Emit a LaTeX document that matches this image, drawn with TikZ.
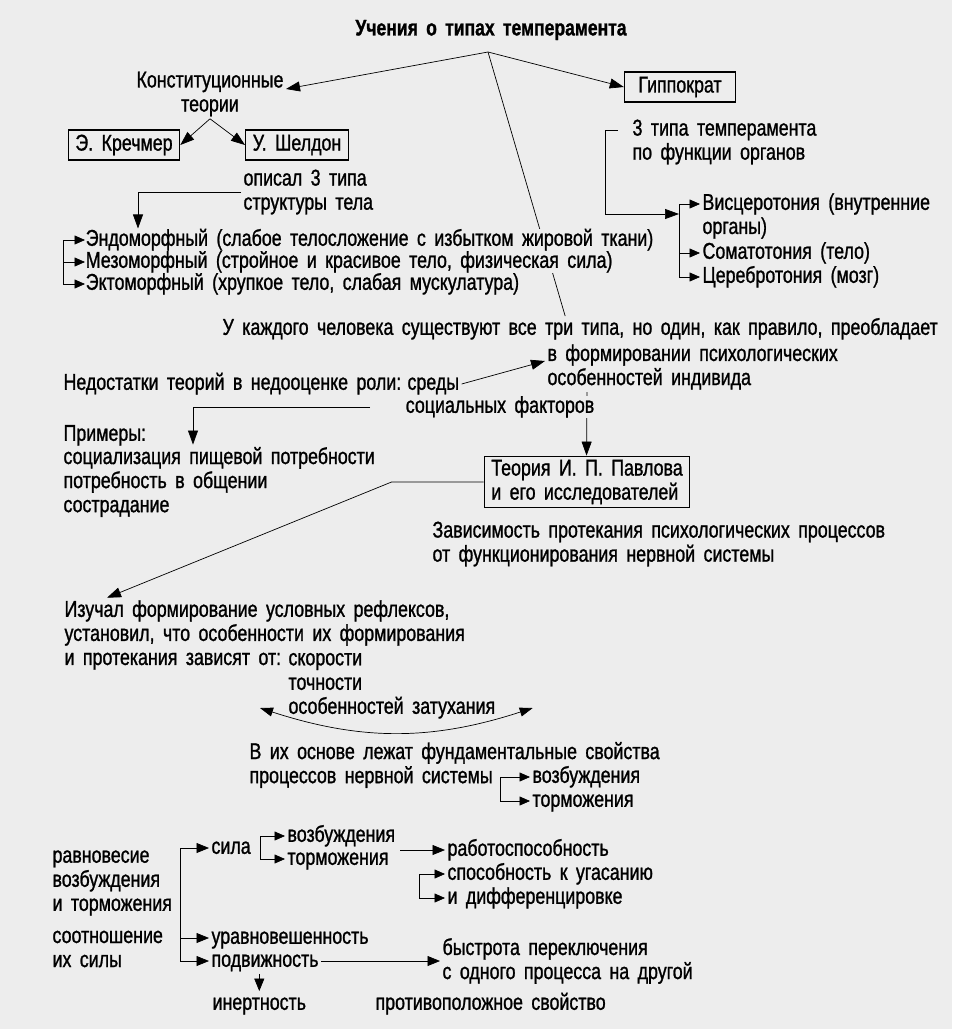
\documentclass[tikz,border=0pt]{standalone}
\usepackage{fontspec}
\setmainfont{Liberation Sans}[FakeStretch=0.78,WordSpace=1.7,FakeBold=1.1]
\usetikzlibrary{arrows.meta,backgrounds}
\definecolor{paper}{gray}{0.93}

\tikzset{
  txt/.style={inner sep=1pt,anchor=west,align=left},
  one/.style={txt,text height=9.2pt,text depth=2.6pt},
  cover/.style={one,fill=paper,inner sep=0pt,text height=9.4pt,text depth=2.8pt},
  box/.style={draw,line width=0.8pt,inner xsep=4pt,inner ysep=2pt,minimum height=0.6cm,fill=paper},
  arr/.style={-{Triangle[length=0.28cm,width=0.2cm]}},
  marr/.style={-{Triangle[length=0.25cm,width=0.2cm]}},
  sarr/.style={-{Triangle[length=0.21cm,width=0.18cm]}},
  darr/.style={{Triangle[length=0.26cm,width=0.18cm]}-{Triangle[length=0.26cm,width=0.18cm]}},
}

\begin{document}
\begin{tikzpicture}[line width=0.9pt,font=\fontsize{13}{13.7}\selectfont]
  \useasboundingbox (0,0) rectangle (19.04,-20.58);

  \node[font=\fontsize{12.8}{13}\selectfont\bfseries,inner sep=1pt] (title) at (9.82,-0.60) {Учения о типах темперамента};
  \coordinate (apex) at (9.76,-1.04);

  \node[align=center,inner sep=1pt] (konst) at (4.20,-1.88) {Конституционные\\теории};
  \node[box] (kretch) at (2.48,-2.90) {Э. Кречмер};
  \node[box] (sheld) at (5.94,-2.90) {У. Шелдон};
  \node[box,minimum width=2.22cm] (hippo) at (13.60,-1.74) {Гиппократ};
  \node[txt] (tipy) at (12.60,-2.84) {3 типа темперамента\\по функции органов};
  \node[txt] (opis) at (4.82,-3.84) {описал 3 типа\\структуры тела};

  \node[txt] (visc) at (14.00,-4.32) {Висцеротония (внутренние\\органы)};
  \node[one] (soma) at (14.00,-5.06) {Соматотония (тело)};
  \node[one] (cereb) at (14.00,-5.54) {Церебротония (мозг)};

  \node[cover] (ecto) at (1.70,-5.68) {Эктоморфный (хрупкое тело, слабая мускулатура)};
  \node[cover] (meso) at (1.70,-5.24) {Мезоморфный (стройное и красивое тело, физическая сила)};
  \node[cover] (endo) at (1.70,-4.80) {Эндоморфный (слабое телосложение с избытком жировой ткани)};

  \node[one] (ukazh) at (4.40,-6.58) {У каждого человека существуют все три типа, но один, как правило, преобладает};
  \node[txt] (form) at (10.90,-7.34) {в формировании психологических\\особенностей индивида};
  \node[one] (nedost) at (1.22,-7.68) {Недостатки теорий в недооценке роли:};
  \node[one] (sredy) at (8.10,-7.68) {среды};
  \node[cover] (socf) at (8.10,-8.14) {социальных факторов};
  \node[one] (prim) at (1.22,-8.70) {Примеры:};
  \node[txt] (exl) at (1.22,-9.64) {социализация пищевой потребности\\потребность в общении\\сострадание};

  \node[box,align=left,minimum width=3.8cm] (pavl) at (11.74,-9.64) {Теория И. П. Павлова\\и его исследователей};
  \node[txt] (zavis) at (8.60,-10.88) {Зависимость протекания психологических процессов\\от функционирования нервной системы};

  \node[txt] (izuch) at (1.24,-12.70) {Изучал формирование условных рефлексов,\\установил, что особенности их формирования\\и протекания зависят от:};
  \node[one] (skor) at (5.72,-13.19) {скорости};
  \node[one] (toch) at (5.72,-13.68) {точности};
  \node[one] (zatuh) at (5.72,-14.16) {особенностей затухания};

  \node[txt] (osnov) at (4.94,-15.30) {В их основе лежат фундаментальные свойства\\процессов нервной системы};
  \node[one] (vozbA) at (10.60,-15.54) {возбуждения};
  \node[one] (tormA) at (10.60,-16.02) {торможения};

  \node[one] (sila) at (4.18,-16.96) {сила};
  \node[one] (vozbB) at (5.70,-16.72) {возбуждения};
  \node[one] (tormB) at (5.70,-17.18) {торможения};
  \node[one] (rabot) at (8.90,-17.00) {работоспособность};
  \node[one] (sposob) at (8.90,-17.48) {способность к угасанию};
  \node[one] (diff) at (8.90,-17.96) {и дифференцировке};

  \node[txt] (ravn) at (1.00,-17.66) {равновесие\\возбуждения\\и торможения};
  \node[txt] (sootn) at (1.00,-18.98) {соотношение\\их силы};
  \node[one] (uravn) at (4.18,-18.76) {уравновешенность};
  \node[one] (podv) at (4.18,-19.22) {подвижность};
  \node[txt] (bystr) at (8.80,-19.22) {быстрота переключения\\с одного процесса на другой};
  \node[one] (inert) at (4.20,-20.08) {инертность};
  \node[one] (protiv) at (7.46,-20.08) {противоположное свойство};

  \begin{scope}[on background layer]
    \fill[paper] (0,0) rectangle (19.04,-20.58);
    \draw[arr] (apex) -- ([yshift=0.1cm]konst.east);
    \draw[arr] (apex) -- (hippo.west);
    \draw (apex) -- ([xshift=-0.3cm]ukazh.north);
    \draw[arr] (konst.south) -- (kretch.east);
    \draw[arr] (konst.south) -- (sheld.west);
    \draw[arr] (opis.west) -| ([xshift=1.06cm]endo.north west);

    \coordinate (eb) at ([xshift=-0.44cm]endo.west);
    \draw[sarr] (eb) -- (endo.west);
    \draw[sarr] (eb) |- (meso.west);
    \draw[sarr] (eb) |- (ecto.west);

    \coordinate (vtop) at ([xshift=-0.42cm,yshift=0.24cm]visc.west);
    \draw[arr] ([xshift=-0.24cm,yshift=0.23cm]tipy.west) -- ++(-0.26,0) |- ([yshift=-0.2cm]vtop);
    \draw[sarr] (vtop) -- ([yshift=0.24cm]visc.west);
    \draw[sarr] (vtop) |- (soma.west);
    \draw[sarr] (vtop) |- (cereb.west);

    \draw[arr] (sredy.east) -- ([yshift=0.12cm]form.west);
    \draw[arr] ([xshift=-0.7cm]socf.west) -| ([xshift=2.64cm]exl.north west);
    \draw[arr] ([xshift=0.84cm]form.south west) -- ([xshift=2.06cm]pavl.north west);
    \draw[arr] (pavl.west) -- ++(-1.84,0) -- ([xshift=0.9cm]izuch.north west);

    \draw[darr] ([xshift=-0.52cm]zatuh.west) to[bend right=18] ([xshift=0.7cm]zatuh.east);

    \coordinate (ob) at ([xshift=-0.6cm]vozbA.west);
    \draw[sarr] (ob) -- (vozbA.west);
    \draw[sarr] (ob) |- (tormA.west);

    \coordinate (sb) at ([xshift=-0.5cm]vozbB.west);
    \draw[sarr] (sb) -- (vozbB.west);
    \draw[sarr] (sb) |- (tormB.west);
    \draw[marr,shorten <=0.18cm] (tormB.east |- rabot.west) -- (rabot.west);

    \coordinate (rb) at ([xshift=-0.52cm]sposob.west);
    \draw[sarr] (rb) -- (sposob.west);
    \draw[sarr] (rb) |- (diff.west);

    \coordinate (bb) at ([xshift=-0.58cm]sila.west);
    \draw[marr] (bb) -- (sila.west);
    \draw[marr] (bb) |- (uravn.west);
    \draw[marr] (bb) |- (podv.west);
    \draw[marr] (podv.east) -- (bystr.west);
    \draw[marr] (podv.south -| inert.north) -- (inert.north);
  \end{scope}
\end{tikzpicture}
\end{document}
